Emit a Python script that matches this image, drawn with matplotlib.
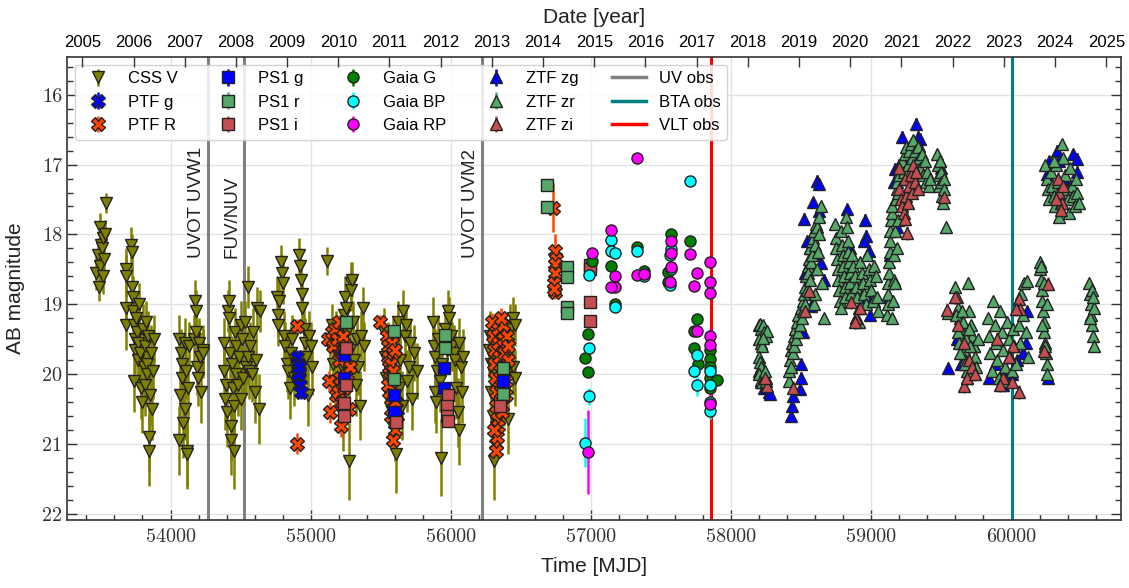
import datetime
import numpy as np
import matplotlib
matplotlib.use("Agg")
import matplotlib.pyplot as plt
from matplotlib.ticker import MultipleLocator, FixedLocator, FuncFormatter

# ---------------- data: [MJD, AB mag, err] ----------------
css_v = [
    [53470, 18.55, 0.25], [53480, 18.3, 0.25], [53490, 18.75, 0.2], [53495, 17.9, 0.2],
    [53500, 18.45, 0.25], [53505, 18.15, 0.2], [53510, 18.2, 0.2], [53515, 18.6, 0.25],
    [53520, 18.05, 0.2], [53525, 18.35, 0.25], [53530, 18.0, 0.2], [53540, 17.55, 0.15],
    [53680, 18.5, 0.3], [53682, 18.6, 0.3], [53684, 19.05, 0.3], [53686, 19.3, 0.35],
    [53720, 18.15, 0.25], [53725, 18.25, 0.25], [53722, 18.75, 0.3], [53730, 18.9, 0.3],
    [53735, 19.1, 0.3], [53740, 19.3, 0.35], [53745, 19.5, 0.35], [53738, 20.1, 0.45],
    [53750, 19.65, 0.35], [53755, 19.2, 0.3], [53760, 19.4, 0.35], [53765, 19.8, 0.4],
    [53770, 19.55, 0.35], [53775, 19.0, 0.3], [53780, 19.7, 0.4], [53790, 20.2, 0.45],
    [53800, 20.4, 0.45], [53805, 19.35, 0.35], [53810, 19.9, 0.4], [53815, 20.15, 0.45],
    [53820, 19.6, 0.35], [53825, 19.25, 0.3], [53830, 19.85, 0.4], [53835, 20.0, 0.45],
    [53840, 19.45, 0.35], [53845, 20.9, 0.5], [53850, 21.1, 0.5], [53855, 20.3, 0.45],
    [53860, 19.7, 0.4], [53870, 20.5, 0.45], [53875, 19.95, 0.4], [53880, 19.5, 0.35],
    [54060, 19.5, 0.35], [54062, 20.95, 0.5], [54070, 20.3, 0.45], [54075, 19.7, 0.35],
    [54080, 19.85, 0.4], [54085, 20.05, 0.4], [54090, 20.7, 0.5], [54100, 19.55, 0.35],
    [54105, 20.5, 0.45], [54110, 19.95, 0.4], [54115, 21.1, 0.5], [54120, 21.15, 0.5],
    [54125, 20.2, 0.4], [54130, 19.6, 0.35], [54170, 19.5, 0.35], [54175, 18.95, 0.3],
    [54180, 19.1, 0.3], [54185, 19.4, 0.35], [54190, 19.9, 0.4], [54195, 20.05, 0.4],
    [54200, 19.55, 0.35], [54210, 19.75, 0.35], [54220, 20.25, 0.45], [54230, 19.65, 0.35],
    [54235, 19.7, 0.35],
    [54380, 19.55, 0.35], [54385, 19.95, 0.4], [54390, 20.35, 0.45], [54395, 20.15, 0.4],
    [54400, 20.55, 0.5], [54410, 19.1, 0.3], [54415, 18.95, 0.3], [54420, 19.2, 0.3],
    [54425, 19.7, 0.35], [54430, 20.75, 0.5], [54435, 20.95, 0.5], [54440, 19.85, 0.4],
    [54445, 20.2, 0.45], [54450, 21.1, 0.55], [54455, 20.45, 0.45], [54460, 19.4, 0.35],
    [54465, 20.0, 0.4], [54470, 19.6, 0.35], [54480, 20.15, 0.45], [54490, 19.75, 0.35],
    [54500, 20.35, 0.45], [54505, 19.3, 0.35], [54510, 19.5, 0.35], [54520, 20.05, 0.4],
    [54530, 19.25, 0.3], [54540, 19.9, 0.4], [54550, 18.75, 0.3], [54555, 19.75, 0.4],
    [54560, 19.95, 0.4], [54570, 19.6, 0.35], [54580, 20.0, 0.4], [54590, 19.4, 0.35],
    [54600, 20.25, 0.45], [54610, 19.8, 0.4], [54620, 19.05, 0.3], [54630, 20.5, 0.5],
    [54640, 19.1, 0.3],
    [54760, 18.9, 0.3], [54765, 19.15, 0.3], [54770, 19.3, 0.3], [54775, 18.95, 0.3],
    [54790, 18.4, 0.25], [54795, 18.55, 0.25], [54800, 18.7, 0.3], [54810, 19.45, 0.35],
    [54820, 19.6, 0.35], [54830, 19.85, 0.4], [54840, 19.95, 0.4], [54850, 20.2, 0.45],
    [54860, 19.7, 0.4], [54870, 19.5, 0.35], [54880, 20.05, 0.4], [54920, 18.3, 0.25],
    [54925, 18.45, 0.25], [54930, 18.65, 0.3], [54935, 18.85, 0.3], [54940, 19.05, 0.3],
    [54950, 19.35, 0.35], [54960, 19.55, 0.35], [54970, 19.75, 0.4], [54980, 20.3, 0.45],
    [54990, 19.45, 0.35], [55000, 19.6, 0.35], [55010, 19.9, 0.4], [55120, 18.38, 0.2],
    [55140, 19.6, 0.35], [55150, 19.3, 0.3], [55160, 19.85, 0.4], [55170, 20.1, 0.4],
    [55180, 19.45, 0.35], [55190, 19.7, 0.35], [55200, 20.35, 0.45], [55210, 19.55, 0.35],
    [55220, 19.9, 0.4], [55230, 20.6, 0.5], [55240, 19.15, 0.3], [55245, 18.9, 0.3],
    [55250, 19.05, 0.3], [55260, 19.4, 0.35], [55270, 20.0, 0.4], [55275, 21.25, 0.55],
    [55280, 19.65, 0.35], [55285, 18.7, 0.3], [55290, 18.8, 0.3], [55295, 18.65, 0.25],
    [55300, 19.25, 0.3], [55310, 19.8, 0.4], [55320, 20.15, 0.45], [55330, 19.5, 0.35],
    [55340, 19.9, 0.4], [55350, 20.45, 0.5], [55360, 19.45, 0.35], [55370, 19.05, 0.3],
    [55380, 19.6, 0.35],
    [55520, 19.4, 0.35], [55530, 19.75, 0.4], [55540, 20.05, 0.4], [55550, 19.6, 0.35],
    [55560, 20.3, 0.45], [55570, 19.9, 0.4], [55580, 20.55, 0.5], [55590, 19.55, 0.35],
    [55600, 20.75, 0.5], [55610, 21.15, 0.55], [55620, 19.25, 0.3], [55630, 20.2, 0.45],
    [55640, 19.8, 0.4], [55650, 20.45, 0.5], [55660, 19.1, 0.3], [55670, 19.45, 0.35],
    [55680, 19.3, 0.3], [55690, 20.1, 0.45], [55700, 19.9, 0.4], [55710, 19.55, 0.35],
    [55720, 20.35, 0.45], [55740, 19.7, 0.4], [55760, 19.95, 0.4],
    [55870, 19.25, 0.35], [55880, 19.6, 0.35], [55885, 19.75, 0.4], [55890, 20.25, 0.45],
    [55895, 20.4, 0.45], [55900, 19.95, 0.4], [55910, 19.5, 0.35], [55920, 20.1, 0.45],
    [55930, 21.2, 0.55], [55940, 19.85, 0.4], [55960, 19.35, 0.35], [55970, 19.65, 0.35],
    [55980, 19.1, 0.3], [55990, 19.2, 0.3], [56000, 19.45, 0.35], [56010, 19.6, 0.35],
    [56020, 19.7, 0.4], [56030, 19.8, 0.4], [56040, 20.2, 0.45], [56050, 20.55, 0.5],
    [56055, 20.8, 0.5], [56060, 19.55, 0.35], [56070, 19.9, 0.4], [56080, 20.25, 0.45],
    [56090, 19.75, 0.4],
    [56270, 19.65, 0.4], [56280, 19.45, 0.35], [56285, 19.85, 0.4], [56290, 20.25, 0.45],
    [56300, 20.6, 0.5], [56305, 21.25, 0.55], [56310, 20.0, 0.4], [56320, 19.7, 0.4],
    [56330, 20.45, 0.5], [56340, 19.55, 0.35], [56360, 19.95, 0.4], [56380, 20.3, 0.45],
    [56400, 19.8, 0.4], [56410, 20.65, 0.5], [56420, 19.35, 0.35], [56440, 19.9, 0.4],
    [56445, 19.2, 0.3], [56455, 19.3, 0.3], [56460, 20.05, 0.4],
]

ptf_g = [
    [54905, 19.75, 0.1], [54910, 19.85, 0.1], [54915, 19.95, 0.1], [54920, 20.05, 0.1],
    [54925, 20.15, 0.1], [54930, 20.25, 0.1], [54912, 20.0, 0.1], [54918, 19.9, 0.1],
    [55610, 20.4, 0.1], [55615, 20.6, 0.1],
]

ptf_r = [
    [54905, 19.31, 0.1], [54900, 21.0, 0.15],
    [55125, 19.5, 0.12], [55130, 20.1, 0.15], [55140, 20.55, 0.15], [55150, 19.4, 0.1],
    [55160, 19.6, 0.12], [55170, 19.35, 0.1], [55180, 20.3, 0.15], [55190, 19.5, 0.1],
    [55195, 20.25, 0.15], [55200, 19.25, 0.1], [55205, 19.8, 0.12], [55210, 20.05, 0.12],
    [55215, 20.75, 0.15], [55220, 19.7, 0.12], [55225, 20.4, 0.15], [55230, 19.45, 0.1],
    [55240, 20.2, 0.15], [55250, 19.6, 0.1], [55260, 20.0, 0.12], [55270, 20.5, 0.15],
    [55280, 19.9, 0.12],
    [55495, 19.25, 0.1], [55545, 19.45, 0.1], [55550, 19.6, 0.12], [55555, 19.75, 0.12],
    [55560, 19.9, 0.12], [55565, 20.05, 0.12], [55570, 20.2, 0.15], [55575, 20.35, 0.15],
    [55580, 19.55, 0.1], [55585, 19.7, 0.12], [55590, 20.5, 0.15], [55595, 20.65, 0.15],
    [55600, 20.8, 0.15], [55585, 20.95, 0.15], [55560, 20.25, 0.12], [55570, 19.85, 0.12],
    [55590, 19.95, 0.12], [55600, 19.65, 0.12], [55605, 20.4, 0.15], [55550, 20.15, 0.12],
    [55575, 20.6, 0.15],
    [56295, 19.25, 0.12], [56300, 19.45, 0.12], [56305, 19.65, 0.12], [56310, 19.85, 0.15],
    [56315, 20.05, 0.15], [56320, 20.25, 0.15], [56325, 20.45, 0.15], [56330, 20.65, 0.15],
    [56335, 19.35, 0.12], [56340, 19.55, 0.12], [56345, 19.75, 0.12], [56350, 19.95, 0.15],
    [56355, 20.15, 0.15], [56360, 20.35, 0.15], [56365, 20.55, 0.15], [56370, 19.3, 0.12],
    [56375, 19.5, 0.15], [56380, 19.7, 0.15], [56385, 19.9, 0.35], [56390, 20.1, 0.15],
    [56395, 20.3, 0.15], [56400, 19.45, 0.12], [56405, 19.6, 0.12], [56410, 19.8, 0.12],
    [56320, 21.0, 0.15], [56325, 21.1, 0.15], [56330, 20.9, 0.15], [56340, 20.75, 0.15],
    [56310, 20.8, 0.15], [56360, 19.2, 0.15],
    [56729, 17.62, 0.35], [56745, 18.24, 0.25], [56748, 18.35, 0.1], [56742, 18.42, 0.1],
    [56746, 18.55, 0.1], [56738, 18.7, 0.1], [56742, 18.82, 0.1], [56735, 18.78, 0.1],
]

ps1_g = [
    [55236, 19.72, 0.05], [55240, 20.05, 0.05], [55593, 20.3, 0.05], [55593, 20.55, 0.05],
    [55950, 19.92, 0.05], [55950, 20.2, 0.05], [56370, 20.1, 0.05],
]
ps1_r = [
    [55250, 19.26, 0.05], [55593, 19.39, 0.05], [55593, 20.07, 0.05], [55957, 19.44, 0.05],
    [55957, 19.63, 0.05], [56371, 19.92, 0.05], [56371, 20.29, 0.05], [56686, 17.29, 0.05],
    [56686, 17.61, 0.05], [56829, 18.47, 0.05], [56829, 18.61, 0.05], [56829, 19.04, 0.05],
    [56829, 19.12, 0.05],
]
ps1_i = [
    [55250, 19.62, 0.05], [55250, 20.15, 0.05], [55240, 20.42, 0.05], [55240, 20.6, 0.05],
    [55607, 20.69, 0.05], [55979, 20.3, 0.05], [55975, 20.46, 0.05], [55975, 20.6, 0.05],
    [55979, 20.67, 0.05], [56350, 20.45, 0.05], [56993, 18.44, 0.05], [56993, 18.5, 0.05],
    [56993, 18.97, 0.05], [56993, 19.24, 0.05],
]

gaia_g = [
    [57007, 18.38, 0.03], [56979, 19.43, 0.05], [56957, 19.77, 0.05], [56979, 19.97, 0.05],
    [57143, 18.45, 0.03], [57171, 19.0, 0.04], [57329, 18.18, 0.03], [57379, 18.52, 0.03],
    [57571, 17.99, 0.03], [57550, 18.54, 0.03], [57550, 18.68, 0.03], [57707, 18.09, 0.03],
    [57757, 19.21, 0.04], [57736, 19.39, 0.05], [57736, 19.62, 0.05], [57764, 19.86, 0.05],
    [57850, 19.65, 0.05], [57850, 19.78, 0.05], [57850, 19.9, 0.05], [57850, 20.05, 0.05],
    [57850, 20.2, 0.05], [57900, 20.09, 0.05],
]
gaia_bp = [
    [56986, 18.58, 0.05], [56986, 19.63, 0.08], [56986, 20.32, 0.12], [56957, 20.98, 0.35],
    [57143, 18.08, 0.05], [57143, 18.24, 0.05], [57171, 18.27, 0.05], [57171, 19.04, 0.06],
    [57329, 18.24, 0.05], [57379, 18.6, 0.05], [57571, 18.21, 0.05], [57560, 18.3, 0.05],
    [57571, 18.5, 0.05], [57560, 18.73, 0.05], [57707, 17.23, 0.05], [57757, 19.73, 0.08],
    [57736, 19.95, 0.1], [57757, 20.16, 0.15], [57850, 19.95, 0.1], [57850, 20.15, 0.1],
    [57850, 20.4, 0.12], [57850, 20.53, 0.12],
]
gaia_rp = [
    [57007, 18.27, 0.05], [56979, 21.12, 0.6], [57143, 17.94, 0.04], [57171, 18.6, 0.05],
    [57171, 18.76, 0.05], [57143, 18.76, 0.05], [57329, 16.9, 0.04], [57329, 18.58, 0.05],
    [57379, 18.56, 0.05], [57571, 18.09, 0.05], [57571, 18.27, 0.05], [57571, 18.46, 0.05],
    [57560, 18.68, 0.05], [57707, 18.28, 0.05], [57757, 18.55, 0.05], [57736, 18.74, 0.05],
    [57757, 19.39, 0.08], [57850, 18.4, 0.05], [57850, 18.68, 0.05], [57850, 18.84, 0.05],
    [57850, 19.46, 0.1], [57850, 19.59, 0.1], [57850, 20.43, 0.15],
]

# ZTF: [MJD, mag]; typical errors below
ztf_zg = [
    [58200, 19.95], [58215, 20.12], [58232, 20.2], [58250, 20.05], [58268, 20.25], [58278, 20.28],
    [58430, 20.6], [58435, 20.45], [58440, 20.32], [58490, 20.22], [58495, 20.05], [58500, 19.85],
    [58514, 19.4], [58571, 19.03], [58525, 18.55], [58586, 18.5], [58643, 18.41], [58660, 18.65],
    [58610, 17.23], [58625, 17.28], [58586, 17.54], [58630, 17.67], [58521, 17.78], [58560, 18.2],
    [58540, 18.1], [58600, 18.3],
    [58829, 17.64], [58957, 17.79], [58962, 18.02], [58945, 18.1], [58985, 18.24], [58993, 19.16],
    [58975, 18.9], [58840, 18.47], [58870, 18.6], [58900, 18.75], [58930, 18.9], [58850, 18.2],
    [59020, 18.95],
    [59221, 16.6], [59321, 16.42], [59330, 16.6], [59345, 16.63], [59340, 16.73], [59171, 17.06],
    [59160, 17.25], [59180, 17.9], [59200, 17.0], [59270, 16.9], [59300, 16.95], [59350, 17.1],
    [59130, 18.3], [59125, 18.9], [59500, 17.05], [59490, 16.95],
    [59550, 19.92], [59610, 19.5], [59640, 19.85], [59660, 19.7], [59700, 19.95], [59730, 19.6],
    [59840, 20.05], [59880, 19.85], [59920, 20.05], [59940, 20.15], [59960, 19.95], [60000, 20.0],
    [60040, 19.8], [60080, 19.7], [60107, 19.1], [60100, 19.55], [60260, 20.05],
    [60250, 17.13], [60270, 16.95], [60321, 16.8], [60340, 16.95], [60380, 17.2], [60440, 16.85],
    [60464, 16.92], [60470, 17.1], [60400, 17.35], [60450, 17.5], [60300, 17.45],
]
ztf_zr = [
    [58195, 19.3], [58205, 19.28], [58215, 19.35], [58225, 19.3], [58235, 19.4], [58245, 19.45],
    [58255, 19.38], [58200, 19.5], [58210, 19.55], [58220, 19.6], [58230, 19.48], [58198, 19.75],
    [58208, 19.82], [58215, 19.9], [58200, 20.0], [58210, 20.08], [58220, 20.12], [58232, 20.05],
    [58240, 19.95], [58250, 20.1],
    [58410, 20.1], [58415, 19.95], [58420, 19.8], [58425, 19.9], [58430, 19.65], [58435, 19.55],
    [58440, 19.7], [58445, 19.45], [58450, 19.6], [58455, 19.35], [58460, 19.5], [58470, 19.25],
    [58475, 19.4], [58480, 19.15], [58490, 19.3], [58500, 19.05], [58505, 19.2], [58510, 18.95],
    [58515, 19.1], [58520, 18.85], [58525, 19.0], [58530, 18.75], [58535, 18.6], [58540, 18.8],
    [58545, 18.45], [58550, 18.55], [58555, 18.35], [58560, 18.65], [58565, 18.2], [58570, 18.4],
    [58575, 18.1], [58580, 18.3], [58585, 18.05], [58590, 17.95], [58600, 18.15], [58605, 17.85],
    [58610, 18.5], [58615, 17.9], [58620, 18.25], [58625, 17.75], [58630, 18.0], [58640, 17.6],
    [58650, 18.7], [58660, 19.2], [58590, 19.0], [58600, 18.85],
    [58740, 17.85], [58745, 18.05], [58750, 18.2], [58755, 18.35], [58760, 18.5], [58765, 18.65],
    [58770, 18.8], [58775, 18.95], [58780, 19.05], [58785, 17.95], [58790, 18.15], [58795, 18.3],
    [58800, 18.45], [58805, 18.6], [58810, 18.75], [58815, 18.9], [58820, 17.75], [58825, 17.9],
    [58830, 18.1], [58835, 18.25], [58840, 18.4], [58845, 18.55], [58850, 18.7], [58855, 18.85],
    [58860, 18.3], [58870, 18.45], [58880, 18.6], [58890, 18.75], [58900, 18.9], [58910, 19.05],
    [58920, 18.4], [58930, 18.55], [58940, 18.7], [58950, 18.85], [58960, 19.0], [58970, 18.3],
    [58980, 18.5], [58990, 18.65], [59000, 18.8], [59010, 18.95], [59020, 18.45], [59030, 18.6],
    [59040, 18.9], [59050, 19.1], [58890, 19.2], [58910, 19.25],
    [59115, 19.15], [59118, 19.0], [59120, 18.85], [59122, 18.7], [59125, 18.55], [59128, 18.4],
    [59130, 18.25], [59133, 18.1], [59136, 17.95], [59140, 17.8], [59145, 17.7], [59150, 17.6],
    [59155, 18.95], [59160, 18.65], [59165, 18.3], [59170, 17.95], [59175, 17.5], [59180, 17.35],
    [59185, 17.25], [59190, 17.4], [59200, 17.15], [59210, 17.05], [59220, 16.95], [59230, 17.1],
    [59240, 16.85], [59250, 16.75], [59260, 17.0], [59270, 16.8], [59280, 16.7], [59290, 16.9],
    [59300, 16.65], [59310, 16.8], [59320, 17.0], [59330, 16.75], [59340, 16.9], [59350, 17.05],
    [59360, 16.85], [59370, 17.15], [59380, 16.95], [59390, 17.25], [59400, 17.1], [59410, 17.3],
    [59420, 17.2], [59170, 18.7], [59180, 18.2], [59150, 19.2], [59190, 17.8],
    [59470, 16.85], [59475, 17.0], [59480, 17.15], [59485, 17.3], [59490, 16.95], [59495, 17.1],
    [59500, 17.25], [59505, 17.45], [59510, 17.55], [59515, 17.2], [59520, 17.35], [59530, 17.9],
    [59545, 19.12], [59600, 18.75], [59610, 18.9], [59620, 19.05], [59630, 19.2], [59640, 19.35],
    [59650, 19.5], [59660, 19.65], [59670, 19.8], [59680, 19.95], [59690, 18.7], [59700, 19.1],
    [59710, 19.3], [59720, 19.45], [59730, 19.6], [59740, 19.75], [59750, 19.9], [59605, 19.15],
    [59615, 19.4], [59625, 19.55], [59635, 19.7], [59645, 19.1], [59655, 19.25], [59665, 19.85],
    [59675, 19.5], [59685, 20.05], [59695, 19.35], [59705, 19.6], [59760, 19.5],
    [59830, 19.2], [59840, 19.45], [59850, 19.7], [59860, 19.95], [59870, 18.95], [59880, 19.3],
    [59890, 19.55], [59900, 19.8], [59910, 20.05], [59920, 19.1], [59930, 19.4], [59940, 19.65],
    [59950, 19.9], [59960, 20.1], [59970, 19.25], [59980, 19.5], [59990, 19.75], [60000, 19.95],
    [60010, 19.35], [60020, 19.6], [60030, 19.85], [60040, 19.05], [60050, 19.3], [60060, 19.55],
    [60070, 18.85], [60080, 19.15], [60090, 18.7], [60100, 19.4], [60110, 18.67], [60120, 19.75],
    [60200, 18.4], [60205, 18.5], [60210, 18.65], [60215, 18.8], [60220, 18.95], [60225, 19.1],
    [60230, 19.25], [60235, 19.4], [60240, 19.55], [60245, 19.7], [60250, 19.85], [60255, 20.0],
    [60210, 18.45], [60230, 18.7], [60250, 19.0], [60220, 19.3], [60240, 19.6],
    [60240, 17.0], [60250, 17.2], [60260, 17.35], [60270, 17.5], [60280, 17.1], [60290, 17.3],
    [60300, 17.45], [60310, 17.6], [60320, 17.0], [60330, 17.25], [60340, 17.4], [60350, 17.55],
    [60360, 16.7], [60370, 16.9], [60380, 17.15], [60390, 17.35], [60400, 17.5], [60410, 17.7],
    [60420, 17.05], [60430, 17.3], [60440, 17.45], [60450, 17.6], [60460, 17.2], [60470, 17.4],
    [60480, 17.55], [60340, 17.75], [60300, 16.95],
    [60555, 18.7], [60560, 18.85], [60565, 19.0], [60570, 19.15], [60575, 19.3], [60580, 19.45],
    [60585, 19.6], [60560, 19.2], [60575, 18.8], [60590, 19.05], [60580, 18.9],
]
ztf_zi = [
    [58257, 20.17], [58240, 20.05],
    [58557, 18.81], [58530, 19.1], [58440, 20.2],
    [58857, 18.97], [58893, 19.19], [58885, 19.26], [58920, 19.05],
    [59200, 17.35], [59210, 17.5], [59220, 17.6], [59230, 17.7], [59240, 17.2], [59250, 17.45],
    [59260, 17.55], [59270, 17.3], [59280, 17.15], [59290, 17.4], [59300, 17.0], [59310, 17.25],
    [59320, 17.1], [59330, 17.35], [59257, 17.98], [59240, 17.78], [59515, 17.46], [59200, 17.05],
    [59543, 19.08], [59600, 18.9], [59620, 19.3], [59660, 19.55], [59664, 20.17], [59680, 20.05],
    [59700, 19.8], [59720, 19.9], [59740, 20.0],
    [60050, 18.93], [60060, 19.07], [60030, 19.07], [60010, 19.6], [60000, 20.12], [60050, 20.26],
    [59940, 20.05], [59920, 20.15], [59980, 19.75], [59900, 19.5],
    [60260, 18.71], [60230, 19.67],
    [60330, 17.2], [60340, 17.4], [60360, 17.55], [60370, 17.3], [60350, 17.65], [60320, 17.5],
]
ztf_err = {"zg": 0.08, "zr": 0.05, "zi": 0.1}

uv_obs = [54264, 54521, 56221]
uv_labels = ["UVOT UVW1", "FUV/NUV", "UVOT UVM2"]
bta_obs = 60005
vlt_obs = 57857

years = list(range(2005, 2026))

# ---------------- style ----------------
plt.rcParams['font.family'] = ['Liberation Sans', 'DejaVu Sans']

fig = plt.figure(figsize=(11.29, 5.88), dpi=100)
ax = fig.add_axes([0.0594, 0.1156, 0.9335, 0.7874])

ax.grid(True, which='major', color='#e3e3e3', lw=1.0, zorder=0)
ax.set_axisbelow(True)

for x in uv_obs:
    ax.axvline(x, color='gray', lw=2.2, zorder=1)
ax.axvline(bta_obs, color='teal', lw=2.2, zorder=1)
ax.axvline(vlt_obs, color='red', lw=2.2, zorder=1)

handles = {}

def plot_series(data, color, marker, ms, label, err=None):
    arr = np.array(data, dtype=float)
    x, y = arr[:, 0], arr[:, 1]
    e = arr[:, 2] if err is None else np.full(len(x), err)
    h = ax.errorbar(x, y, yerr=e, fmt=marker, color=color, ecolor=color,
                    mfc=color, mec='#222222', mew=1.0, ms=ms, elinewidth=1.8,
                    capsize=0, label=label, zorder=3)
    handles[label] = h

plot_series(css_v, 'olive', 'v', 8.5, 'CSS V')
plot_series(ptf_g, 'blue', 'X', 9.5, 'PTF g')
plot_series(ptf_r, 'orangered', 'X', 9.5, 'PTF R')
plot_series(ps1_g, 'blue', 's', 8, 'PS1 g')
plot_series(ps1_r, '#55a868', 's', 8, 'PS1 r')
plot_series(ps1_i, '#c44e52', 's', 8, 'PS1 i')
plot_series(gaia_g, 'green', 'o', 8, 'Gaia G')
plot_series(gaia_bp, 'cyan', 'o', 8, 'Gaia BP')
plot_series(gaia_rp, 'magenta', 'o', 8, 'Gaia RP')
plot_series(ztf_zg, 'blue', '^', 8, 'ZTF zg', err=ztf_err["zg"])
plot_series(ztf_zr, '#55a868', '^', 8, 'ZTF zr', err=ztf_err["zr"])
plot_series(ztf_zi, '#c44e52', '^', 8, 'ZTF zi', err=ztf_err["zi"])

handles['UV obs'], = ax.plot([], [], color='gray', lw=2.5)
handles['BTA obs'], = ax.plot([], [], color='teal', lw=2.5)
handles['VLT obs'], = ax.plot([], [], color='red', lw=2.5)

for x, lab in zip(uv_obs, uv_labels):
    ax.annotate(lab, xy=(x, 18.34), xytext=(-2, 0), textcoords='offset points',
                rotation=90, ha='right', va='bottom', fontsize=13.5, color='#222222')

ax.set_xlim(53262, 60781)
ax.set_ylim(22.09, 15.46)

ax.xaxis.set_major_locator(MultipleLocator(1000))
ax.xaxis.set_minor_locator(MultipleLocator(200))
ax.yaxis.set_major_locator(MultipleLocator(1))
ax.yaxis.set_minor_locator(MultipleLocator(0.2))
ax.xaxis.set_major_formatter(FuncFormatter(lambda v, p: '%d' % int(round(v))))
ax.yaxis.set_major_formatter(FuncFormatter(lambda v, p: '%d' % int(round(v))))
ax.tick_params(which='both', direction='in', left=True, right=True, bottom=True, top=False,
               labelsize=14.5, color='#333333', labelcolor='#333333',
               labelfontfamily='cmr10')
ax.tick_params(which='major', length=7, width=1.0)
ax.tick_params(which='minor', length=4, width=1.0)
ax.tick_params(axis='x', which='major', pad=6)
for s in ax.spines.values():
    s.set_linewidth(1.2)
    s.set_color('#333333')

ax.set_xlabel('Time [MJD]', fontsize=15, color='#222222', labelpad=8)
ax.set_ylabel('AB magnitude', fontsize=15, color='#222222', labelpad=12)

# top axis: calendar years
ref = datetime.date(1858, 11, 17)
year_mjd = [(datetime.date(y, 1, 1) - ref).days for y in years]
top = ax.twiny()
top.set_xlim(ax.get_xlim())
top.xaxis.set_major_locator(FixedLocator(year_mjd))
top.set_xticklabels([str(y) for y in years])
top.tick_params(axis='x', direction='in', length=7, width=1.0, labelsize=12,
                color='#333333', pad=5)
top.set_xlabel('Date [year]', fontsize=15, labelpad=9, color='#222222')
for s in top.spines.values():
    s.set_visible(False)

order = ['CSS V', 'PTF g', 'PTF R', 'PS1 g', 'PS1 r', 'PS1 i',
         'Gaia G', 'Gaia BP', 'Gaia RP', 'ZTF zg', 'ZTF zr', 'ZTF zi',
         'UV obs', 'BTA obs', 'VLT obs']
leg = ax.legend([handles[k] for k in order], order, ncol=5, loc='upper left',
                fontsize=12, framealpha=0.85, bbox_to_anchor=(0.0, 1.0),
                borderaxespad=0.45)
leg.set_zorder(10)

fig.savefig('out.png', dpi=100)
